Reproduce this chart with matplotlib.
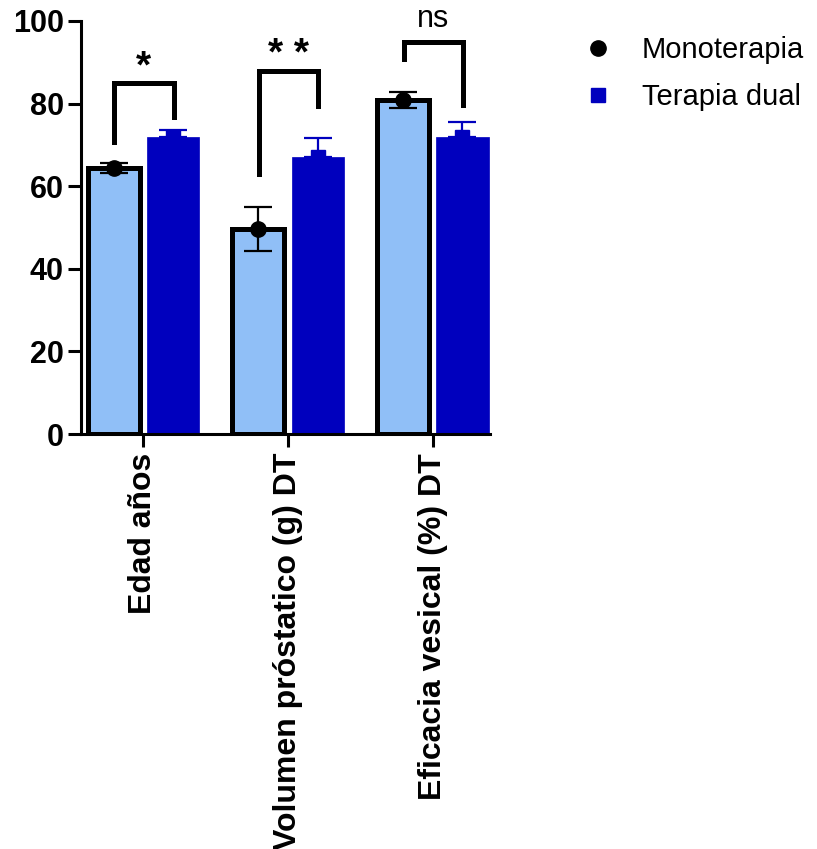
import numpy as np
import matplotlib.pyplot as plt
from matplotlib.lines import Line2D

plt.rcParams['font.family'] = ['Liberation Sans', 'DejaVu Sans']

# data
categories = ["Edad años", "Volumen próstatico (g) DT", "Eficacia vesical (%) DT"]
mono_mean = [64.4, 49.6, 80.9]
mono_err = [1.2, 5.4, 1.9]
dual_mean = [71.8, 67.1, 71.9]
dual_err = [1.8, 4.6, 3.6]

# significance brackets: (left y end, top, right y end, label)
brk_left = [70.7, 63.0, 90.8]
brk_top = [85.0, 87.9, 94.9]
brk_right = [76.8, 79.4, 79.7]
brk_label = ["*", "* *", "ns"]

light = "#90BFF7"
dark = "#0000BE"

fig = plt.figure(figsize=(8.17, 8.49), dpi=100)
ax = fig.add_axes([81 / 817, 1 - 434 / 849, 409 / 817, 413 / 849])

x = np.arange(len(categories))
w = 0.36
off = 0.205

ax.bar(x - off, mono_mean, w, color=light, edgecolor="black", linewidth=3.6, zorder=2)
ax.bar(x + off, dual_mean, w, color=dark, edgecolor=dark, linewidth=0.5, zorder=2)

ax.errorbar(x - off, mono_mean, yerr=mono_err, fmt="o", color="black", ms=11,
            elinewidth=1.6, capsize=10, capthick=1.6, zorder=4, clip_on=False)
ax.errorbar(x + off, dual_mean, yerr=[[0] * 3, dual_err], fmt="s", color=dark, ms=10,
            elinewidth=1.6, capsize=10, capthick=1.6, zorder=4)

for i in range(len(categories)):
    xl, xr = x[i] - 0.2, x[i] + 0.21
    ax.plot([xl, xl, xr, xr], [brk_left[i], brk_top[i], brk_top[i], brk_right[i]],
            color="black", lw=3.6, solid_joinstyle="miter", zorder=3, clip_on=False)
    if brk_label[i] == "ns":
        ax.text(x[i], brk_top[i] + 3.6, brk_label[i], ha="center", va="baseline",
                fontsize=22, clip_on=False)
    else:
        ax.text(x[i], brk_top[i] - 0.5, brk_label[i], ha="center", va="bottom",
                fontsize=28, fontweight="bold", clip_on=False)

ax.set_xlim(-0.43, 2.395)
ax.set_ylim(0, 100)
ax.set_yticks([0, 20, 40, 60, 80, 100])
ax.set_xticks(x)
ax.set_xticklabels(categories, rotation=90, fontsize=23, fontweight="bold")
for t in ax.get_yticklabels():
    t.set_fontsize(22)
    t.set_fontweight("bold")

for s in ["top", "right"]:
    ax.spines[s].set_visible(False)
for s in ["left", "bottom"]:
    ax.spines[s].set_linewidth(2.2)
ax.tick_params(axis="both", length=9.5, width=2.2, pad=3)
ax.tick_params(axis="x", pad=4)

handles = [Line2D([], [], marker="o", color="black", ls="", ms=11),
           Line2D([], [], marker="s", color=dark, ls="", ms=10)]
fig.legend(handles, ["Monoterapia", "Terapia dual"], loc="upper left",
           bbox_to_anchor=(550 / 817, 1 - 10 / 849), frameon=False, fontsize=21,
           handletextpad=0.75, labelspacing=0.65, handlelength=1.5)

fig.savefig("out.png", dpi=100)
